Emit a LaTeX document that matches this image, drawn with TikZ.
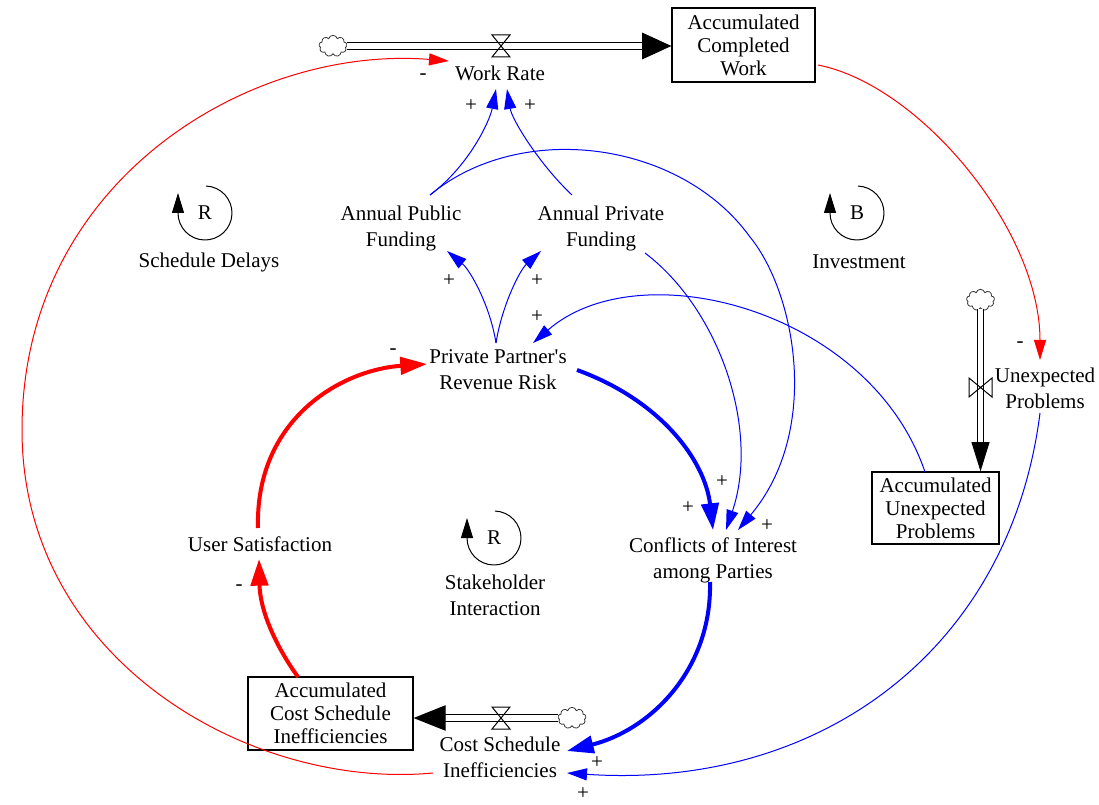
\documentclass[tikz,border=0pt]{standalone}
\usepackage{fontspec}
\setmainfont{Liberation Serif}
\usetikzlibrary{arrows.meta,shapes.symbols}
\begin{document}
\begin{tikzpicture}[x=0.75pt,y=-0.75pt,
  every node/.style={font=\fontsize{15.75pt}{19.5pt}\selectfont, inner sep=0pt},
  lbl/.style={align=center},
  stock/.style={draw, line width=0.9pt, align=center, font=\fontsize{15.75pt}{17.25pt}\selectfont},
  thinb/.style={draw=blue, line width=0.75pt, -{Triangle[length=15pt,width=9pt]}},
  thickb/.style={draw=blue, line width=3pt, -{Triangle[length=20pt,width=13pt]}},
  thinr/.style={draw=red, line width=0.75pt, -{Triangle[length=15pt,width=9pt]}},
  thickr/.style={draw=red, line width=3pt, -{Triangle[length=20pt,width=13pt]}},
  pipe/.style={draw, double, line width=0.8pt, double distance=4.2pt},
  valve/.style={draw, line width=0.75pt},
  cloudn/.style={cloud, draw=black!80, cloud puffs=9, cloud ignores aspect, minimum width=21pt, minimum height=16pt, line width=0.6pt},
  loopar/.style={draw, line width=0.75pt, -{Triangle[length=15pt,width=9pt]}}
]
\useasboundingbox (0,0) rectangle (1099,805);

% stocks
\node[stock, minimum width=107.25pt, minimum height=55.5pt] (acw) at (743.5,45) {Accumulated\\Completed\\Work};
\node[stock, minimum width=95.25pt, minimum height=54pt] (aup) at (935.5,508) {Accumulated\\Unexpected\\Problems};
\node[stock, minimum width=123.75pt, minimum height=54.75pt] (acsi) at (330.5,713.5) {Accumulated\\Cost Schedule\\Inefficiencies};

% clouds
\node[cloudn] (cla) at (333,46) {};
\node[cloudn] (clb) at (980.5,300) {};
\node[cloudn] (clc) at (572,718) {};

% variables
\node[lbl] (wr) at (500,73) {Work Rate};
\node[lbl] (apf) at (401,228) {Annual Public\\Funding};
\node[lbl] (apv) at (601,228) {Annual Private\\Funding};
\node[lbl] (pprr) at (498,370) {Private Partner\textquotesingle s\\Revenue Risk};
\node[lbl] (up) at (1045,388.5) {Unexpected\\Problems};
\node[lbl] (coi) at (713,560) {Conflicts of Interest\\among Parties};
\node[lbl] (us) at (260,544) {User Satisfaction};
\node[lbl] (csi) at (500,757) {Cost Schedule\\Inefficiencies};

% pipes
\draw[pipe, -{Triangle[length=22pt,width=20pt]}] (cla.east) -- (cla.east -| acw.west);
\draw[pipe, -{Triangle[length=22pt,width=13.5pt]}] (clb.south) -- (clb.south |- aup.north);
\draw[pipe, -{Triangle[length=24pt,width=19pt]}] (clc.west) -- (clc.west -| acsi.east);

% valves
\coordinate (v1) at (501,46);
\coordinate (v2) at (980.5,387.5);
\coordinate (v3) at (501,718);
\draw[valve] ([shift={(-9,-11)}]v1) -- ++(18,0) -- (v1) -- ++(9,11) -- ++(-18,0) -- (v1) -- cycle;
\draw[valve] ([shift={(-9,-11)}]v3) -- ++(18,0) -- (v3) -- ++(9,11) -- ++(-18,0) -- (v3) -- cycle;
\draw[valve] ([shift={(-11.5,-9.5)}]v2) -- ++(0,19) -- (v2) -- ++(11.5,-9.5) -- ++(0,19) -- (v2) -- cycle;

% loops
\node (r1) at (205,213) {R};
\draw[loopar] ([shift={(-88:27)}]r1.center) arc[start angle=-88,end angle=180,radius=27] -- ++(0,-20);
\node (r1l) at (209,262) {Schedule Delays};
\node (b1) at (857,213) {B};
\draw[loopar] ([shift={(-88:27)}]b1.center) arc[start angle=-88,end angle=180,radius=27] -- ++(0,-20);
\node (b1l) at (859,262) {Investment};
\node (r2) at (494,538) {R};
\draw[loopar] ([shift={(-88:27)}]r2.center) arc[start angle=-88,end angle=180,radius=27] -- ++(0,-20);
\node[lbl] (r2l) at (495,595) {Stakeholder\\Interaction};

% links
\draw[thinr] ([shift={(-67,16)}]csi.center) .. controls (250,790) and (22,660) .. (22,430)
   .. controls (22,180) and (250,45) .. ([shift={(-51,-12)}]wr.center);
\draw[thinr] ([shift={(74.5,20)}]acw.center) .. controls (920,85) and (1040,230) .. ([shift={(-5,-28.5)}]up.center);
\draw[thinb] ([shift={(29,-33)}]apf.center) .. controls (470,165) and (490,120) .. ([shift={(-4,16)}]wr.center);
\draw[thinb] ([shift={(-29,-33)}]apv.center) .. controls (540,165) and (512,120) .. ([shift={(7,16)}]wr.center);
\draw[thinb] ([shift={(29,-33)}]apf.center) .. controls (520,120) and (680,140) .. (750,237)
   .. controls (795,292) and (822,430) .. ([shift={(25,-30)}]coi.center);
\draw[thinb] ([shift={(44,25)}]apv.center) .. controls (720,310) and (760,430) .. ([shift={(13,-30)}]coi.center);
\draw[thinb] ([shift={(-2,-27)}]pprr.center) .. controls (490,305) and (470,270) .. ([shift={(46,23)}]apf.center);
\draw[thinb] ([shift={(-2,-27)}]pprr.center) .. controls (502,305) and (520,270) .. ([shift={(-60,23)}]apv.center);
\draw[thinb] ([shift={(-10.5,-36)}]aup.center) .. controls (870,310) and (640,250) .. ([shift={(35,-27)}]pprr.center);
\draw[thickb] ([shift={(79,0)}]pprr.center) .. controls (660,400) and (705,460) .. ([shift={(0,-30)}]coi.center);
\draw[thickb] ([shift={(-3,22)}]coi.center) .. controls (712,670) and (650,730) .. ([shift={(67,-6)}]csi.center);
\draw[thinb] ([shift={(-5,24.5)}]up.center) .. controls (1010,650) and (820,790) .. ([shift={(67,16)}]csi.center);
\draw[thickr] ([shift={(-32.5,-36.5)}]acsi.center) .. controls (275,645) and (260,610) .. ([shift={(-1,15)}]us.center);
\draw[thickr] ([shift={(-2,-16)}]us.center) .. controls (255,420) and (340,370) .. ([shift={(-71,-6)}]pprr.center);

% polarities
\node (p1) at (423,77) {-};
\node (p2) at (471,106) {+};
\node (p3) at (530,106) {+};
\node (p4) at (449,281) {+};
\node (p5) at (537,281) {+};
\node (p6) at (537,317) {+};
\node (p7) at (393,352) {-};
\node (p8) at (1020,345) {-};
\node (p9) at (688,508) {+};
\node (p10) at (722,482) {+};
\node (p11) at (767,526) {+};
\node (p12) at (239,588) {-};
\node (p13) at (597,763) {+};
\node (p14) at (583,794) {+};
\end{tikzpicture}
\end{document}
